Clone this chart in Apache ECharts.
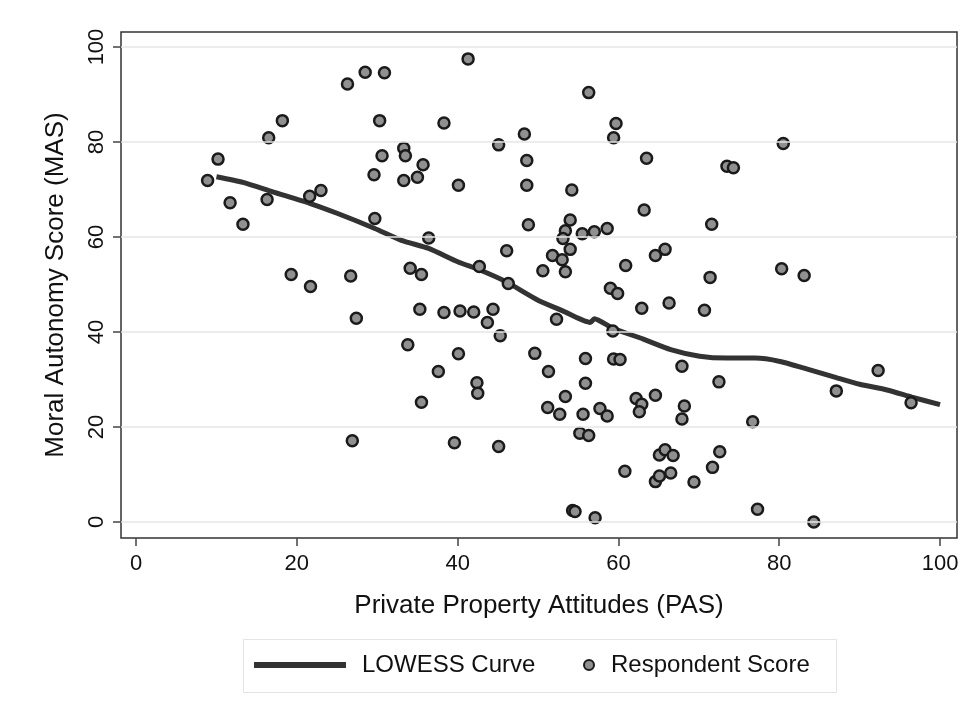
<!DOCTYPE html>
<html>
<head>
<meta charset="utf-8">
<script src="https://cdn.jsdelivr.net/npm/echarts@6/dist/echarts.min.js"></script>
<style>
html,body{margin:0;padding:0;background:#fff;}
#chart{width:972px;height:712px;}
</style>
</head>
<body>
<div id="chart"></div>
<script>
// Private Property Attitudes (x) for each respondent
const pasScores = [
  26.3,28.5,30.9,18.2,16.5,30.3,10.2,30.6,8.9,29.6,
  11.7,16.3,21.6,23.0,13.3,29.7,19.3,21.7,26.7,41.3,
  56.3,38.3,48.3,59.7,59.4,33.3,33.5,35.7,45.1,48.6,
  63.5,33.3,35.0,40.1,48.6,54.2,63.2,48.8,54.0,53.4,
  53.1,54.0,55.5,57.0,58.6,36.4,46.1,51.8,53.0,53.4,
  50.6,60.9,64.6,65.8,34.1,35.5,42.7,46.3,80.5,73.5,
  74.3,71.6,80.3,83.1,71.4,27.4,26.9,59.0,59.9,62.9,
  66.3,35.3,38.3,40.3,42.0,44.4,43.7,52.3,45.3,59.3,
  33.8,40.1,49.6,55.9,59.4,60.2,37.6,51.3,42.4,42.5,
  55.9,53.4,35.5,51.2,52.7,55.6,57.7,58.6,62.2,62.9,
  62.6,64.6,55.2,56.3,39.6,45.1,65.1,65.8,60.8,64.6,
  65.1,54.3,57.1,70.7,67.9,72.5,87.1,92.3,96.4,68.2,
  67.9,76.7,66.8,72.6,71.7,66.5,69.4,77.3,84.3,54.6
];
// Moral Autonomy Scores (y) for each respondent
const masScores = [
  92.2,94.7,94.6,84.5,80.9,84.5,76.4,77.1,71.9,73.1,
  67.2,67.9,68.6,69.8,62.7,63.9,52.1,49.6,51.8,97.5,
  90.4,84.0,81.7,83.9,80.9,78.7,77.1,75.2,79.4,76.1,
  76.6,71.9,72.6,70.9,70.9,69.9,65.7,62.6,63.6,61.3,
  59.7,57.4,60.7,61.1,61.8,59.8,57.1,56.1,55.2,52.7,
  52.9,54.0,56.1,57.4,53.4,52.1,53.8,50.2,79.7,74.9,
  74.6,62.7,53.3,51.9,51.5,42.9,17.1,49.2,48.1,45.0,
  46.1,44.8,44.1,44.4,44.2,44.8,42.0,42.7,39.2,40.2,
  37.3,35.4,35.5,34.4,34.3,34.2,31.7,31.7,29.3,27.1,
  29.2,26.4,25.2,24.1,22.7,22.7,23.9,22.3,26.0,24.8,
  23.2,26.7,18.7,18.2,16.7,15.9,14.1,15.2,10.7,8.5,
  9.7,2.4,0.9,44.6,32.8,29.5,27.6,31.9,25.1,24.4,
  21.7,21.1,14.0,14.8,11.5,10.3,8.4,2.7,0.0,2.2
];
// LOWESS curve
const lowessX = [10,13.3,17,21.6,25,29.7,33,36.4,40,42.7,46,50,53,56.5,57,59.3,63.1,66.5,70.1,73.5,77,80.1,83.5,87.1,90,93.4,96.5,100];
const lowessY = [72.7,71.5,69.5,67.1,65.0,61.8,59.3,57.6,54.8,53.1,50.6,46.7,44.5,42.0,42.8,40.8,38.5,36.3,34.9,34.5,34.5,33.8,32.2,30.4,29.0,27.8,26.3,24.7];
// Tick labels
const xTicks = [0,20,40,60,80,100];
const yTicks = [0,20,40,60,80,100];

const FONT = 'Liberation Sans, Arial, Helvetica, sans-serif';
const chart = echarts.init(document.getElementById('chart'), null, {renderer:'canvas'});

const scatterData = pasScores.map((x,i)=>[x, masScores[i]]);
const lowessData = lowessX.map((x,i)=>[x, lowessY[i]]);

chart.setOption({
  animation:false,
  backgroundColor:'#fff',
  textStyle:{fontFamily:FONT},
  grid:{left:121, top:32, width:836, height:506, show:true, borderColor:'#333', borderWidth:1.5, backgroundColor:'transparent', outerBoundsMode:'none'},
  xAxis:{
    type:'value', min:-1.87, max:102.11,
    name:'Private Property Attitudes (PAS)', nameLocation:'middle', nameGap:55,
    nameTextStyle:{fontSize:26, color:'#111', fontFamily:FONT},
    axisLine:{show:false, onZero:false},
    axisTick:{show:true, customValues:xTicks, length:8, lineStyle:{color:'#444', width:1.5}},
    axisLabel:{customValues:xTicks, fontSize:22, color:'#111', margin:15, fontFamily:FONT},
    splitLine:{show:false}
  },
  yAxis:{
    type:'value', min:-3.37, max:103.16,
    name:'Moral Autonomy Score (MAS)', nameLocation:'middle', nameGap:52, nameRotate:90,
    nameTextStyle:{fontSize:26, color:'#111', fontFamily:FONT},
    axisLine:{show:false, onZero:false},
    axisTick:{show:true, customValues:yTicks, length:8, lineStyle:{color:'#444', width:1.5}},
    axisLabel:{customValues:yTicks, fontSize:22, color:'#111', margin:13, rotate:90, fontFamily:FONT},
    splitLine:{show:false}
  },
  legend:[
    {
      data:[{name:'LOWESS Curve', icon:'rect'}], left:254, top:653, padding:0, orient:'horizontal',
      itemWidth:92, itemHeight:6,
      itemStyle:{color:'#333', borderWidth:0},
      textStyle:{fontSize:24, color:'#111', fontFamily:FONT, padding:[0,0,0,11]}
    },
    {
      data:['Respondent Score'], left:583, top:653, padding:0,
      itemWidth:10, itemHeight:10,
      textStyle:{fontSize:24, color:'#111', fontFamily:FONT, padding:[0,0,0,12]}
    }
  ],
  graphic:[{
    type:'rect', left:243, top:639, z:-1, silent:true,
    shape:{width:593, height:53},
    style:{fill:'#fff', stroke:'#e4e4e4', lineWidth:1}
  }],
  series:[
    {
      name:'LOWESS Curve', type:'line', data:lowessData, symbol:'none', smooth:0.2,
      lineStyle:{color:'#333', width:5}, itemStyle:{color:'#333'}, z:2,
      markLine:{
        silent:true, symbol:'none', animation:false,
        label:{show:false},
        lineStyle:{color:'#e6e6e6', width:1.5, type:'solid'},
        data: yTicks.map(v=>({yAxis:v}))
      }
    },
    {
      name:'Respondent Score', type:'scatter', data:scatterData, symbol:'circle', symbolSize:11, z:3,
      itemStyle:{color:'#909090', borderColor:'#1a1a1a', borderWidth:2.5, opacity:1}
    }
  ]
});
</script>
</body>
</html>
